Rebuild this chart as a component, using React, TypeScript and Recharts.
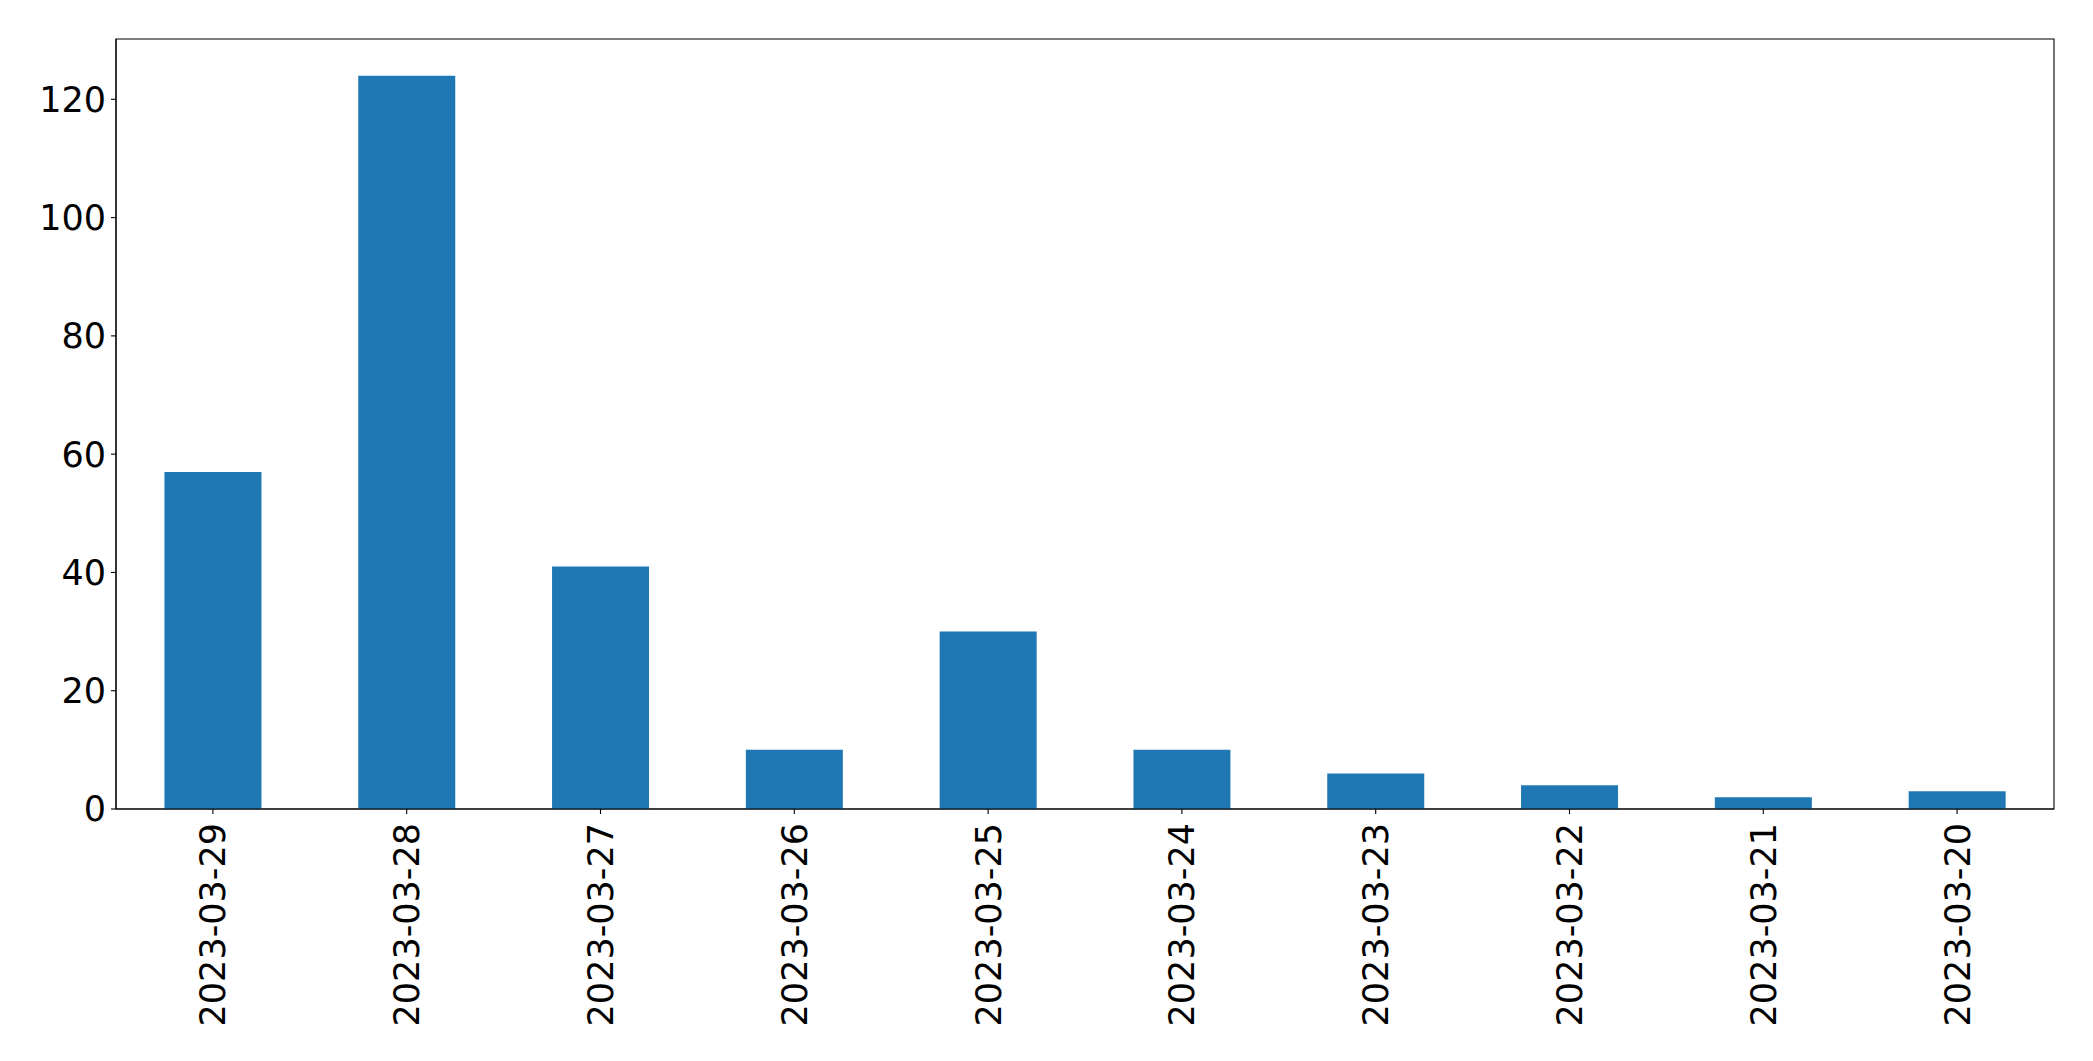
import { BarChart, Bar, XAxis, YAxis, ReferenceArea } from "recharts";

const dates = [
  "2023-03-29",
  "2023-03-28",
  "2023-03-27",
  "2023-03-26",
  "2023-03-25",
  "2023-03-24",
  "2023-03-23",
  "2023-03-22",
  "2023-03-21",
  "2023-03-20",
];
const counts = [57, 124, 41, 10, 30, 10, 6, 4, 2, 3];
const yTicks = [0, 20, 40, 60, 80, 100, 120];
const yMax = 130.2;

const FONT = "DejaVu Sans";
const FS = 35;

const data = dates.map((d, i) => ({ date: d, count: counts[i] }));

function DateTick({ x, y, payload }: any) {
  return (
    <text
      x={x}
      y={y + 7}
      transform={`rotate(-90, ${x}, ${y + 7})`}
      textAnchor="end"
      dy="0.36em"
      fontSize={FS}
      fontFamily={FONT}
      fill="#000"
    >
      {payload.value}
    </text>
  );
}

export default function App() {
  return (
    <div style={{ position: "absolute", left: 0, top: 0, background: "#fff" }}>
      <BarChart
        width={2093}
        height={1061}
        data={data}
        margin={{ top: 39, right: 39, bottom: 22, left: 16 }}
        barCategoryGap="25%"
      >
        <XAxis
          dataKey="date"
          interval={0}
          height={230}
          tickSize={5}
          tick={<DateTick />}
          axisLine={{ stroke: "#000", strokeWidth: 1.1 }}
          tickLine={{ stroke: "#000", strokeWidth: 1.1 }}
        />
        <YAxis
          width={100}
          domain={[0, yMax]}
          ticks={yTicks}
          tickSize={5}
          tickMargin={5}
          tick={{ fontSize: FS, fontFamily: FONT, fill: "#000" }}
          axisLine={{ stroke: "#000", strokeWidth: 1.1 }}
          tickLine={{ stroke: "#000", strokeWidth: 1.1 }}
        />
        <Bar dataKey="count" fill="#1f77b4" isAnimationActive={false} />
        <ReferenceArea
          y1={0}
          y2={yMax}
          fill="none"
          fillOpacity={0}
          stroke="#000"
          strokeWidth={1.1}
        />
      </BarChart>
    </div>
  );
}
